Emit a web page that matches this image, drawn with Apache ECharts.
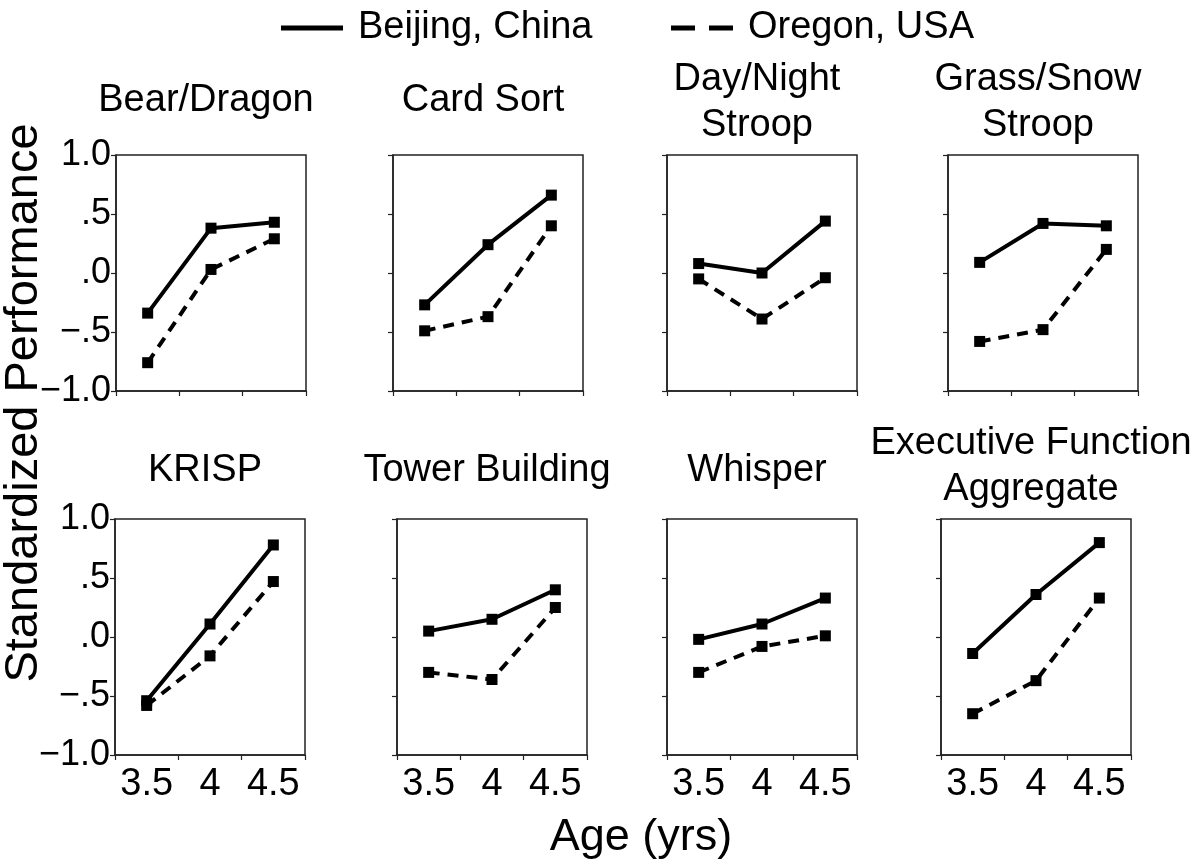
<!DOCTYPE html>
<html>
<head>
<meta charset="utf-8">
<script src="https://cdn.jsdelivr.net/npm/echarts@6/dist/echarts.min.js"></script>
<style>
html,body{margin:0;padding:0;background:#fff;}
#chart{width:1204px;height:863px;}
</style>
</head>
<body>
<div id="chart"></div>
<script>
// ---- data ----
const ageCategories = ['3.5', '4', '4.5'];
const panelTitles = [
  'Bear/Dragon', 'Card Sort', 'Day/Night\nStroop', 'Grass/Snow\nStroop',
  'KRISP', 'Tower Building', 'Whisper', 'Executive Function\nAggregate'
];
const yTickLabels = ['\u22121.0', '\u2212.5', '.0', '.5', '1.0'];
const seriesNames = ['Beijing, China', 'Oregon, USA'];
const beijingBearDragon   = [-0.34, 0.38, 0.43];
const oregonBearDragon    = [-0.76, 0.03, 0.29];
const beijingCardSort     = [-0.27, 0.24, 0.66];
const oregonCardSort      = [-0.49, -0.37, 0.40];
const beijingDayNight     = [0.08, 0.00, 0.44];
const oregonDayNight      = [-0.05, -0.39, -0.04];
const beijingGrassSnow    = [0.09, 0.42, 0.40];
const oregonGrassSnow     = [-0.58, -0.48, 0.20];
const beijingKRISP        = [-0.54, 0.11, 0.78];
const oregonKRISP         = [-0.58, -0.16, 0.47];
const beijingTower        = [0.05, 0.15, 0.40];
const oregonTower         = [-0.30, -0.36, 0.25];
const beijingWhisper      = [-0.02, 0.11, 0.33];
const oregonWhisper       = [-0.30, -0.08, 0.01];
const beijingAggregate    = [-0.14, 0.36, 0.80];
const oregonAggregate     = [-0.65, -0.37, 0.33];

const beijingPanels = [beijingBearDragon, beijingCardSort, beijingDayNight, beijingGrassSnow,
  beijingKRISP, beijingTower, beijingWhisper, beijingAggregate];
const oregonPanels = [oregonBearDragon, oregonCardSort, oregonDayNight, oregonGrassSnow,
  oregonKRISP, oregonTower, oregonWhisper, oregonAggregate];

// ---- layout ----
const FONT = '"Liberation Sans", Arial, Helvetica, sans-serif';
const panelLefts = [116, 393, 667, 948, 115, 397, 667, 941];
const panelTops = [155, 155, 155, 155, 519, 519, 519, 519];
const panelW = 190, panelH = 236;

const grids = [], xAxes = [], yAxes = [], series = [], graphics = [];
for (let i = 0; i < 8; i++) {
  const row = i < 4 ? 0 : 1;
  const col = i % 4;
  grids.push({
    left: panelLefts[i], top: panelTops[i], width: panelW, height: panelH,
    show: true, borderColor: '#222', borderWidth: 1.5, backgroundColor: 'transparent'
  });
  xAxes.push({
    type: 'category', gridIndex: i, data: ageCategories, boundaryGap: true,
    axisLine: { show: true, onZero: false, lineStyle: { color: '#222', width: 1.5 } },
    axisTick: { show: true, length: 5, interval: 0, lineStyle: { color: '#222', width: 1.2 } },
    axisLabel: { show: row === 1, interval: 0, hideOverlap: false, color: '#000',
      fontSize: 38, fontFamily: FONT, margin: 11 },
    splitLine: { show: false }
  });
  yAxes.push({
    type: 'value', gridIndex: i, min: -1, max: 1, interval: 0.5,
    axisLine: { show: true, lineStyle: { color: '#222', width: 1.5 } },
    axisTick: { show: true, length: 5, lineStyle: { color: '#222', width: 1.2 } },
    axisLabel: {
      show: col === 0, color: '#000', fontSize: 36, fontFamily: FONT, margin: 5,
      formatter: function (v) { return yTickLabels[Math.round((v + 1) / 0.5)]; }
    },
    splitLine: { show: false }
  });
  series.push({
    name: seriesNames[0], type: 'line', xAxisIndex: i, yAxisIndex: i,
    data: beijingPanels[i], symbol: 'rect', symbolSize: 11,
    itemStyle: { color: '#000' }, lineStyle: { color: '#000', width: 4, type: 'solid' },
    animation: false
  });
  series.push({
    name: seriesNames[1], type: 'line', xAxisIndex: i, yAxisIndex: i,
    data: oregonPanels[i], symbol: 'rect', symbolSize: 11,
    itemStyle: { color: '#000' }, lineStyle: { color: '#000', width: 4, type: [11, 8] },
    animation: false
  });
  // panel title
  const cx = panelLefts[i] + panelW / 2 - 5;
  const twoLine = panelTitles[i].indexOf('\n') >= 0;
  let cy;
  if (row === 0) cy = twoLine ? 103 : 101;
  else cy = twoLine ? 467 : 471;
  graphics.push({
    type: 'text', x: cx, y: cy,
    style: { text: panelTitles[i], fill: '#000', font: '38px ' + FONT,
      textAlign: 'center', textVerticalAlign: 'middle', lineHeight: 46 }
  });
}
graphics.push({
  type: 'text', x: 24, y: 403, rotation: Math.PI / 2,
  style: { text: 'Standardized Performance', fill: '#000', font: '47px ' + FONT,
    textAlign: 'center', textVerticalAlign: 'middle' }
});
graphics.push({
  type: 'text', x: 641, y: 838,
  style: { text: 'Age (yrs)', fill: '#000', font: '45px ' + FONT,
    textAlign: 'center', textVerticalAlign: 'middle' }
});

const legendCommon = {
  top: 4, itemWidth: 62, itemHeight: 5, orient: 'horizontal',
  textStyle: { color: '#000', fontSize: 38, fontFamily: FONT, padding: [0, 0, 0, 10] },
  selectedMode: false
};

const option = {
  backgroundColor: '#fff',
  animation: false,
  legend: [
    Object.assign({}, legendCommon, { left: 276,
      data: [{ name: seriesNames[0], icon: 'path://M0,0h62v5h-62z' }] }),
    Object.assign({}, legendCommon, { left: 666,
      data: [{ name: seriesNames[1], icon: 'path://M0,0h24v5h-24z M38,0h24v5h-24z' }] })
  ],
  grid: grids, xAxis: xAxes, yAxis: yAxes, series: series, graphic: graphics
};

const chart = echarts.init(document.getElementById('chart'), null, { renderer: 'canvas' });
chart.setOption(option);
</script>
</body>
</html>
